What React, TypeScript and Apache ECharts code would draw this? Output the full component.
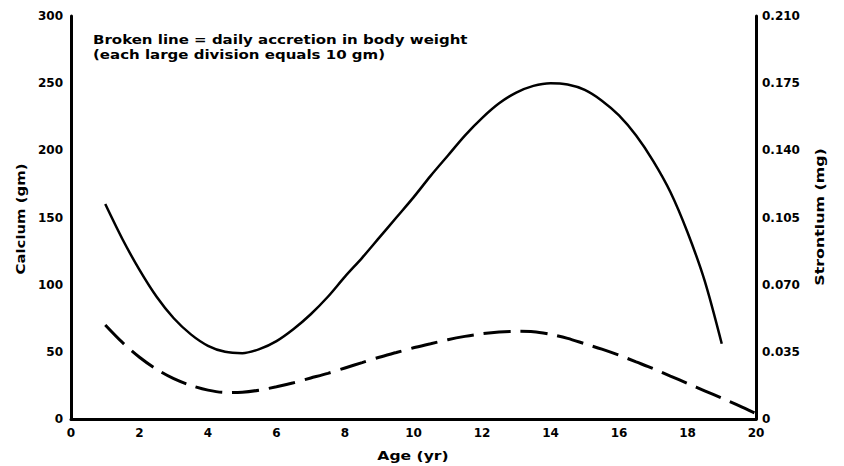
import React, { useEffect, useRef } from "react";
import * as echarts from "echarts";

// Calcium curve (solid), left axis, gm
const calciumAges = [1, 1.5, 2, 2.5, 3, 3.5, 4, 4.5, 5, 5.5, 6, 6.5, 7, 7.5, 8, 8.5, 9, 9.5, 10, 10.5, 11, 11.5, 12, 12.5, 13, 13.5, 14, 14.5, 15, 15.5, 16, 16.5, 17, 17.5, 18, 18.5, 19];
const calciumValues = [160, 134, 111, 91, 75, 63, 54.5, 50, 49, 52, 58, 67, 78, 91, 106, 120, 135, 150, 165, 181, 196, 211, 224, 235, 243, 248, 250, 249, 245, 237, 226, 211, 192, 169, 139, 103, 56];

// Broken line: daily accretion in body weight, gm (each large division = 10 gm)
const accretionAges = [1, 1.5, 2, 2.5, 3, 3.5, 4, 4.5, 5, 5.5, 6, 6.5, 7, 7.5, 8, 8.5, 9, 9.5, 10, 10.5, 11, 11.5, 12, 12.5, 13, 13.5, 14, 14.5, 15, 15.5, 16, 16.5, 17, 17.5, 18, 18.5, 19, 19.5, 20];
const accretionValues = [14, 11.4, 9.2, 7.4, 6.0, 5.0, 4.3, 3.95, 4.0, 4.3, 4.8, 5.4, 6.1, 6.8, 7.6, 8.4, 9.2, 9.9, 10.6, 11.2, 11.8, 12.3, 12.7, 12.95, 13.05, 13.0, 12.6, 12.0, 11.2, 10.4, 9.5, 8.5, 7.5, 6.4, 5.3, 4.2, 3.1, 2.0, 0.8];

const ageTicks = [0, 20, 2]; // min, max, interval
const calciumTicks = [0, 300, 50];
const strontiumTicks = [0, 0.21, 0.035];
const accretionRange = [0, 60];

const FONT = "DejaVu Sans";

export default function App() {
  const ref = useRef<HTMLDivElement>(null);
  useEffect(() => {
    document.body.style.margin = "0";
    const chart = echarts.init(ref.current!, null, { renderer: "svg" });
    const label = { fontFamily: FONT, fontWeight: "bold", fontSize: 12, color: "#000" };
    const axisLine = { show: true, lineStyle: { color: "#000", width: 3 } };
    const font = `bold 12px "${FONT}"`;
    chart.setOption({
      animation: false,
      backgroundColor: "#fff",
      grid: { left: 71, right: 88, top: 16, bottom: 47 },
      xAxis: {
        type: "value",
        min: ageTicks[0],
        max: ageTicks[1],
        interval: ageTicks[2],
        axisLine,
        axisTick: { show: false },
        splitLine: { show: false },
        axisLabel: { ...label, margin: 8 },
      },
      yAxis: [
        {
          type: "value",
          min: calciumTicks[0],
          max: calciumTicks[1],
          interval: calciumTicks[2],
          axisLine,
          axisTick: { show: false },
          splitLine: { show: false },
          axisLabel: { ...label, margin: 8 },
        },
        {
          type: "value",
          position: "right",
          min: strontiumTicks[0],
          max: strontiumTicks[1],
          interval: strontiumTicks[2],
          axisLine,
          axisTick: { show: false },
          splitLine: { show: false },
          axisLabel: {
            ...label,
            margin: 6,
            formatter: (v: number) => (v === 0 ? "0" : v.toFixed(3)),
          },
        },
        {
          type: "value",
          show: false,
          min: accretionRange[0],
          max: accretionRange[1],
          splitLine: { show: false },
        },
      ],
      graphic: [
        {
          type: "text",
          x: 93,
          y: 32,
          scaleX: 1.25,
          style: {
            text: "Broken line = daily accretion in body weight\n(each large division equals 10 gm)",
            font,
            fill: "#000",
            lineHeight: 15,
          },
        },
        {
          type: "text",
          x: 413,
          y: 456,
          scaleX: 1.3,
          style: { text: "Age (yr)", font, fill: "#000", align: "center", verticalAlign: "middle" },
        },
        {
          type: "text",
          x: 21,
          y: 219,
          rotation: Math.PI / 2,
          scaleX: 1.24,
          style: { text: "Calcium (gm)", font, fill: "#000", align: "center", verticalAlign: "middle" },
        },
        {
          type: "text",
          x: 820,
          y: 217,
          rotation: Math.PI / 2,
          scaleX: 1.32,
          style: { text: "Strontium (mg)", font, fill: "#000", align: "center", verticalAlign: "middle" },
        },
      ],
      series: [
        {
          type: "line",
          yAxisIndex: 0,
          smooth: 0.3,
          symbol: "none",
          lineStyle: { color: "#000", width: 2.5 },
          data: calciumAges.map((a, i) => [a, calciumValues[i]]),
        },
        {
          type: "line",
          yAxisIndex: 2,
          smooth: 0.3,
          symbol: "none",
          lineStyle: { color: "#000", width: 3, type: [27, 10] },
          data: accretionAges.map((a, i) => [a, accretionValues[i]]),
        },
      ],
    });
    return () => chart.dispose();
  }, []);
  return <div ref={ref} style={{ width: 844, height: 466 }} />;
}
